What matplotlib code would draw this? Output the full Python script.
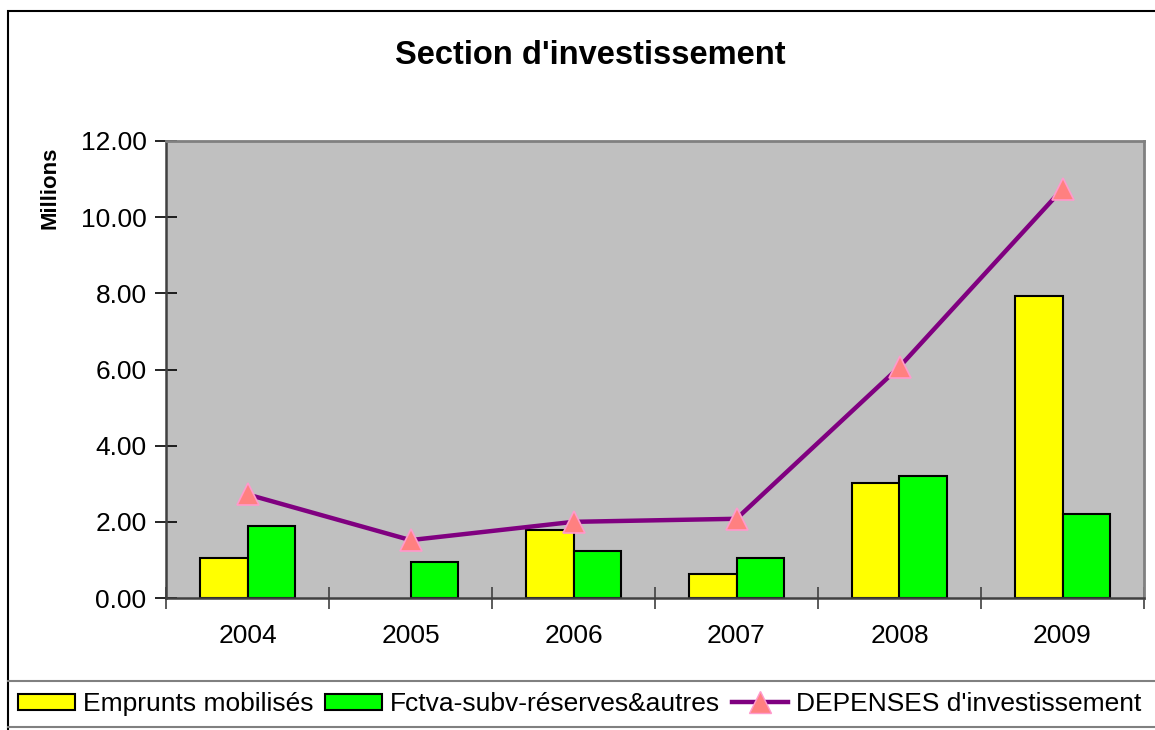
import matplotlib
matplotlib.use("Agg")
import matplotlib.pyplot as plt
from matplotlib.patches import Rectangle, Patch
from matplotlib.lines import Line2D
import numpy as np

plt.rcParams['font.family'] = ['Liberation Sans', 'DejaVu Sans']

years = ['2004', '2005', '2006', '2007', '2008', '2009']
emprunts = [1.05, 0.0, 1.79, 0.63, 3.02, 7.93]
fctva = [1.89, 0.95, 1.23, 1.05, 3.20, 2.20]
depenses = [2.72, 1.52, 2.00, 2.08, 6.07, 10.74]

W, H = 1155, 730
fig = plt.figure(figsize=(W / 100, H / 100), dpi=100)

# chart border + legend box
fig.patches.append(Rectangle((8 / W, -0.1), 1.2, 1 - 11 / H + 0.1, transform=fig.transFigure,
                             fill=False, edgecolor='black', linewidth=1.5))
for yy in (681, 727):
    fig.lines.append(Line2D([8 / W, 1.0], [1 - yy / H] * 2, transform=fig.transFigure,
                            color='#808080', linewidth=1.5))

ax = fig.add_axes([166 / W, 1 - 598 / H, (1144 - 166) / W, (598 - 141) / H])
ax.set_facecolor('#C0C0C0')

x = np.arange(len(years))
bw = 0.29
ax.bar(x - bw / 2, emprunts, bw, color='#FFFF00', edgecolor='black',
       linewidth=[1.5 if v > 0 else 0 for v in emprunts], zorder=2)
ax.bar(x + bw / 2, fctva, bw, color='#00FF00', edgecolor='black',
       linewidth=[1.5 if v > 0 else 0 for v in fctva], zorder=2)
ax.plot(x, depenses, color='#800080', linewidth=3.2, marker='^', markersize=16,
        markerfacecolor='#FF8080', markeredgecolor='#FF99CC', markeredgewidth=1.2, zorder=3)

ax.set_xlim(-0.5, len(years) - 0.5)
ax.set_ylim(0, 12)
ax.set_yticks(np.arange(0, 12.01, 2))
ax.set_yticklabels(['%.2f' % v for v in np.arange(0, 12.01, 2)])
ax.set_xticks(x)
ax.set_xticklabels(years)
ax.set_xticks(np.arange(-0.5, len(years)), minor=True)
ax.tick_params(axis='x', which='major', length=0, pad=19, labelsize=19)
ax.tick_params(axis='x', which='minor', length=16, direction='inout', color='#404040', width=1.2)
ax.tick_params(axis='y', length=16, direction='inout', color='black', width=1.2,
               labelsize=19, pad=6)

for s in ('left', 'bottom'):
    ax.spines[s].set_color('#404040')
    ax.spines[s].set_linewidth(1.8)
for s in ('top', 'right'):
    ax.spines[s].set_color('#808080')
    ax.spines[s].set_linewidth(2)

fig.text(590 / W, 1 - 55 / H, "Section d'investissement", ha='center', va='center',
         fontsize=23.5, fontweight='bold')
fig.text(50 / W, 1 - 188 / H, 'Millions', rotation=90, ha='center', va='center',
         fontsize=16, fontweight='bold')

handles = [
    Patch(facecolor='#FFFF00', edgecolor='black', linewidth=1.5),
    Patch(facecolor='#00FF00', edgecolor='black', linewidth=1.5),
    Line2D([], [], color='#800080', linewidth=3.2, marker='^', markersize=16,
           markerfacecolor='#FF8080', markeredgecolor='#FF99CC'),
]
labels = ['Emprunts mobilisés', 'Fctva-subv-réserves&autres', "DEPENSES d'investissement"]
fig.legend(handles, labels, loc='center left', bbox_to_anchor=(18 / W, 1 - 704 / H),
           ncol=3, frameon=False, fontsize=19, handlelength=2.15, handleheight=0.55,
           handletextpad=0.3, columnspacing=0.45, borderaxespad=0, borderpad=0)

fig.savefig('out.png', dpi=100)
